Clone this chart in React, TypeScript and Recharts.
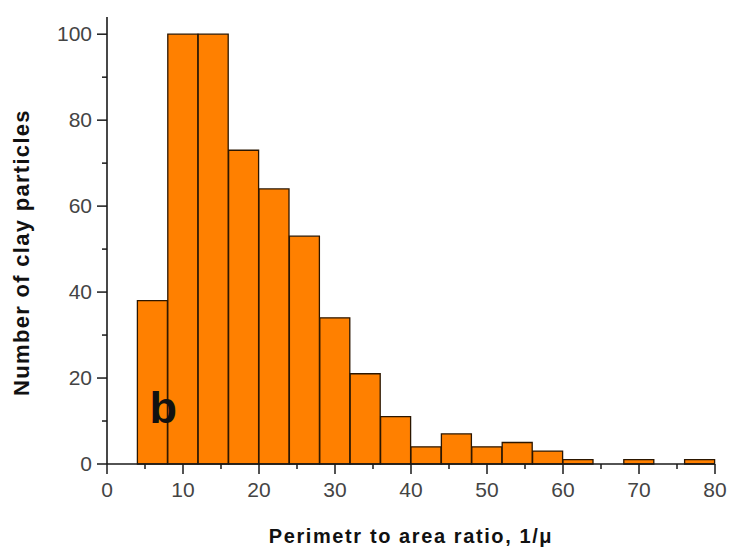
import { Bar, BarChart, XAxis, YAxis, ReferenceDot } from "recharts";

// histogram bins (width 4), centre of each bin
const binCenters = [6, 10, 14, 18, 22, 26, 30, 34, 38, 42, 46, 50, 54, 58, 62, 66, 70, 74, 78];
const counts = [38, 100, 100, 73, 64, 53, 34, 21, 11, 4, 7, 4, 5, 3, 1, 0, 1, 0, 1];

const xTicks = [0, 5, 10, 15, 20, 25, 30, 35, 40, 45, 50, 55, 60, 65, 70, 75, 80];
const yTicks = [0, 10, 20, 30, 40, 50, 60, 70, 80, 90, 100];

const data = binCenters.map((x, i) => ({ x, n: counts[i] }));

const AXIS = "#1a1a1a";
const TICK_TEXT = "#444";
const FONT = "'Liberation Sans', Arial, sans-serif";

function XTick({ x, y, payload }: any) {
  const major = payload.value % 10 === 0;
  return (
    <g>
      <line x1={x} x2={x} y1={y} y2={y + (major ? 10 : 5)} stroke={AXIS} strokeWidth={1.5} />
      {major && (
        <text x={x} y={y + 33} textAnchor="middle" fill={TICK_TEXT} fontSize={21} fontFamily={FONT}>
          {payload.value}
        </text>
      )}
    </g>
  );
}

function YTick({ x, y, payload }: any) {
  const major = payload.value % 20 === 0;
  return (
    <g>
      <line x1={x - (major ? 10 : 5)} x2={x} y1={y} y2={y} stroke={AXIS} strokeWidth={1.5} />
      {major && (
        <text x={x - 15} y={y} dy="0.33em" textAnchor="end" fill={TICK_TEXT} fontSize={21} fontFamily={FONT}>
          {payload.value}
        </text>
      )}
    </g>
  );
}

function XTitle({ viewBox }: any) {
  const cx = viewBox.x + viewBox.width / 2;
  return (
    <text x={cx} y={543} textAnchor="middle" fill="#111" fontSize={20} fontWeight="bold" letterSpacing={1.6} fontFamily={FONT}>
      Perimetr to area ratio, 1/μ
    </text>
  );
}

function YTitle({ viewBox }: any) {
  const cy = viewBox.y + viewBox.height / 2 + 12;
  return (
    <text x={29} y={cy} transform={`rotate(-90, 29, ${cy})`} textAnchor="middle" fill="#111" fontSize={22} fontWeight="bold" letterSpacing={1.3} fontFamily={FONT}>
      Number of clay particles
    </text>
  );
}

export default function App() {
  return (
    <div style={{ position: "absolute", left: 0, top: 0, width: 732, height: 553, background: "#fff" }}>
      <BarChart
        width={732}
        height={553}
        data={data}
        margin={{ top: 17, right: 17, left: 47, bottom: 29 }}
        barCategoryGap={0}
        barGap={0}
      >
        <XAxis
          dataKey="x"
          type="number"
          domain={[0, 80]}
          ticks={xTicks}
          interval={0}
          height={60}
          tickLine={false}
          tickSize={0}
          tickMargin={0}
          tick={<XTick />}
          axisLine={{ stroke: AXIS, strokeWidth: 1.6 }}
          label={{ content: <XTitle /> }}
        />
        <YAxis
          type="number"
          domain={[0, 104]}
          ticks={yTicks}
          interval={0}
          width={60}
          tickLine={false}
          tickSize={0}
          tickMargin={0}
          tick={<YTick />}
          axisLine={{ stroke: AXIS, strokeWidth: 1.6 }}
          label={{ content: <YTitle /> }}
        />
        <Bar dataKey="n" fill="#ff8000" stroke="#2b1600" strokeWidth={1.3} isAnimationActive={false} />
        <ReferenceDot
          x={7.4}
          y={13.3}
          r={0}
          stroke="none"
          fill="none"
          label={{ value: "b", position: "center", fontSize: 45, fontWeight: "bold", fill: "#111", fontFamily: FONT }}
        />
      </BarChart>
    </div>
  );
}
